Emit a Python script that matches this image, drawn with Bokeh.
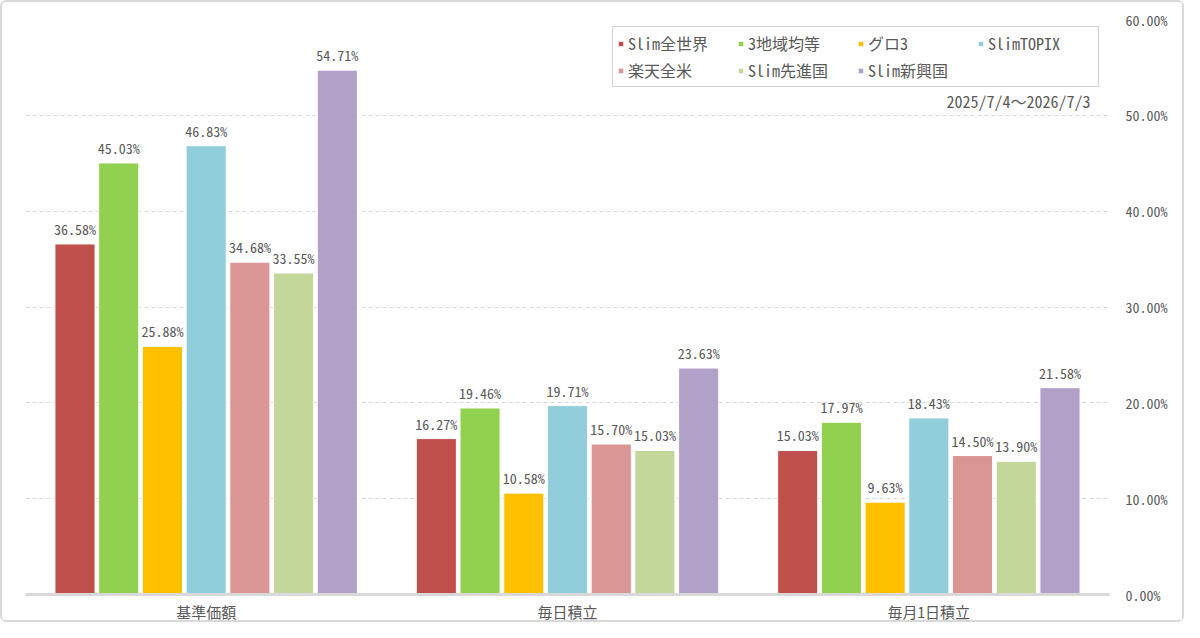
from bokeh.plotting import figure
from bokeh.models import (FactorRange, Range1d, Legend, LegendItem, Label,
                          ColumnDataSource, PrintfTickFormatter, FixedTicker, LinearAxis)
from bokeh.transform import dodge
from bokeh.core.properties import value
from bokeh.embed import file_html
from bokeh.resources import INLINE

# ---- data ----
categories = ["基準価額", "毎日積立", "毎月1日積立"]
series_names = ["Slim全世界", "3地域均等", "グロ3", "SlimTOPIX", "楽天全米", "Slim先進国", "Slim新興国"]
slim_zensekai = [36.58, 16.27, 15.03]
chiiki3 = [45.03, 19.46, 17.97]
guro3 = [25.88, 10.58, 9.63]
slim_topix = [46.83, 19.71, 18.43]
rakuten_zenbei = [34.68, 15.70, 14.50]
slim_senshin = [33.55, 15.03, 13.90]
slim_shinko = [54.71, 23.63, 21.58]
series_values = [slim_zensekai, chiiki3, guro3, slim_topix, rakuten_zenbei, slim_senshin, slim_shinko]
colors = ["#C0504D", "#92D050", "#FFC000", "#92CDDC", "#DA9694", "#C4D79B", "#B1A0C7"]
y_ticks = [0, 10, 20, 30, 40, 50, 60]
period_text = "2025/7/4～2026/7/3"

FONT = "Noto Sans Mono CJK JP"
TXT = "#595959"

p = figure(width=1184, height=622, x_range=FactorRange(factors=categories, range_padding=0),
           y_range=Range1d(0, 60), output_backend="svg", toolbar_location=None,
           min_border_left=23, min_border_right=77, min_border_top=17, min_border_bottom=24,
           y_axis_location=None)
p.styles = {"border": "2px solid #d9d9d9", "border-radius": "6px", "box-sizing": "border-box"}
p.outline_line_color = None
p.background_fill_color = "white"

step = 0.121
width = 0.111
items = []
for i, (name, vals, col) in enumerate(zip(series_names, series_values, colors)):
    src = ColumnDataSource(dict(cat=categories, v=vals, lab=["%.2f%%" % v for v in vals]))
    off = (i - 3) * step
    r = p.vbar(x=dodge("cat", off, range=p.x_range), top="v", width=width, source=src,
               fill_color=col, line_color="white", line_width=1)
    p.text(x=dodge("cat", off, range=p.x_range), y="v", text="lab", source=src,
           text_align="center", text_baseline="bottom", y_offset=-5,
           text_font=value(FONT), text_font_size="14px", text_color=TXT)
    items.append(LegendItem(label=name, renderers=[r]))

# axes
yaxis = LinearAxis(ticker=FixedTicker(ticks=y_ticks),
                   formatter=PrintfTickFormatter(format="%.2f%%"))
yaxis.axis_line_color = None
yaxis.major_tick_line_color = None
yaxis.minor_tick_line_color = None
yaxis.major_label_text_font = FONT
yaxis.major_label_text_font_size = "14px"
yaxis.major_label_text_color = TXT
yaxis.major_label_standoff = 10
p.add_layout(yaxis, "right")

xa = p.xaxis[0]
xa.axis_line_color = "#d9d9d9"
xa.axis_line_width = 3
xa.major_tick_line_color = None
xa.minor_tick_line_color = None
xa.major_label_text_font = FONT
xa.major_label_text_font_size = "15px"
xa.major_label_text_color = TXT
xa.major_label_standoff = 0

p.xgrid.grid_line_color = None
p.ygrid.ticker = FixedTicker(ticks=y_ticks[1:])
p.ygrid.grid_line_color = "#d9d9d9"
p.ygrid.grid_line_dash = "4 3"
p.ygrid.grid_line_width = 1

legend = Legend(items=items, ncols=4, location=(587, 507), orientation="horizontal",
                glyph_width=7, glyph_height=7, label_text_font=FONT, label_text_font_size="16px",
                label_text_color=TXT, border_line_color="#a6a6a6", border_line_width=1.5,
                background_fill_alpha=1, padding=4, spacing=3, label_standoff=4,
                margin=0, label_height=21, label_width=106)
p.add_layout(legend, "center")

p.add_layout(Label(x=1065, y=494, x_units="screen", y_units="screen", text=period_text,
                   text_align="right", text_baseline="middle", text_font=FONT,
                   text_font_size="16px", text_color=TXT))

open("out.html", "w").write(file_html(p, INLINE))
